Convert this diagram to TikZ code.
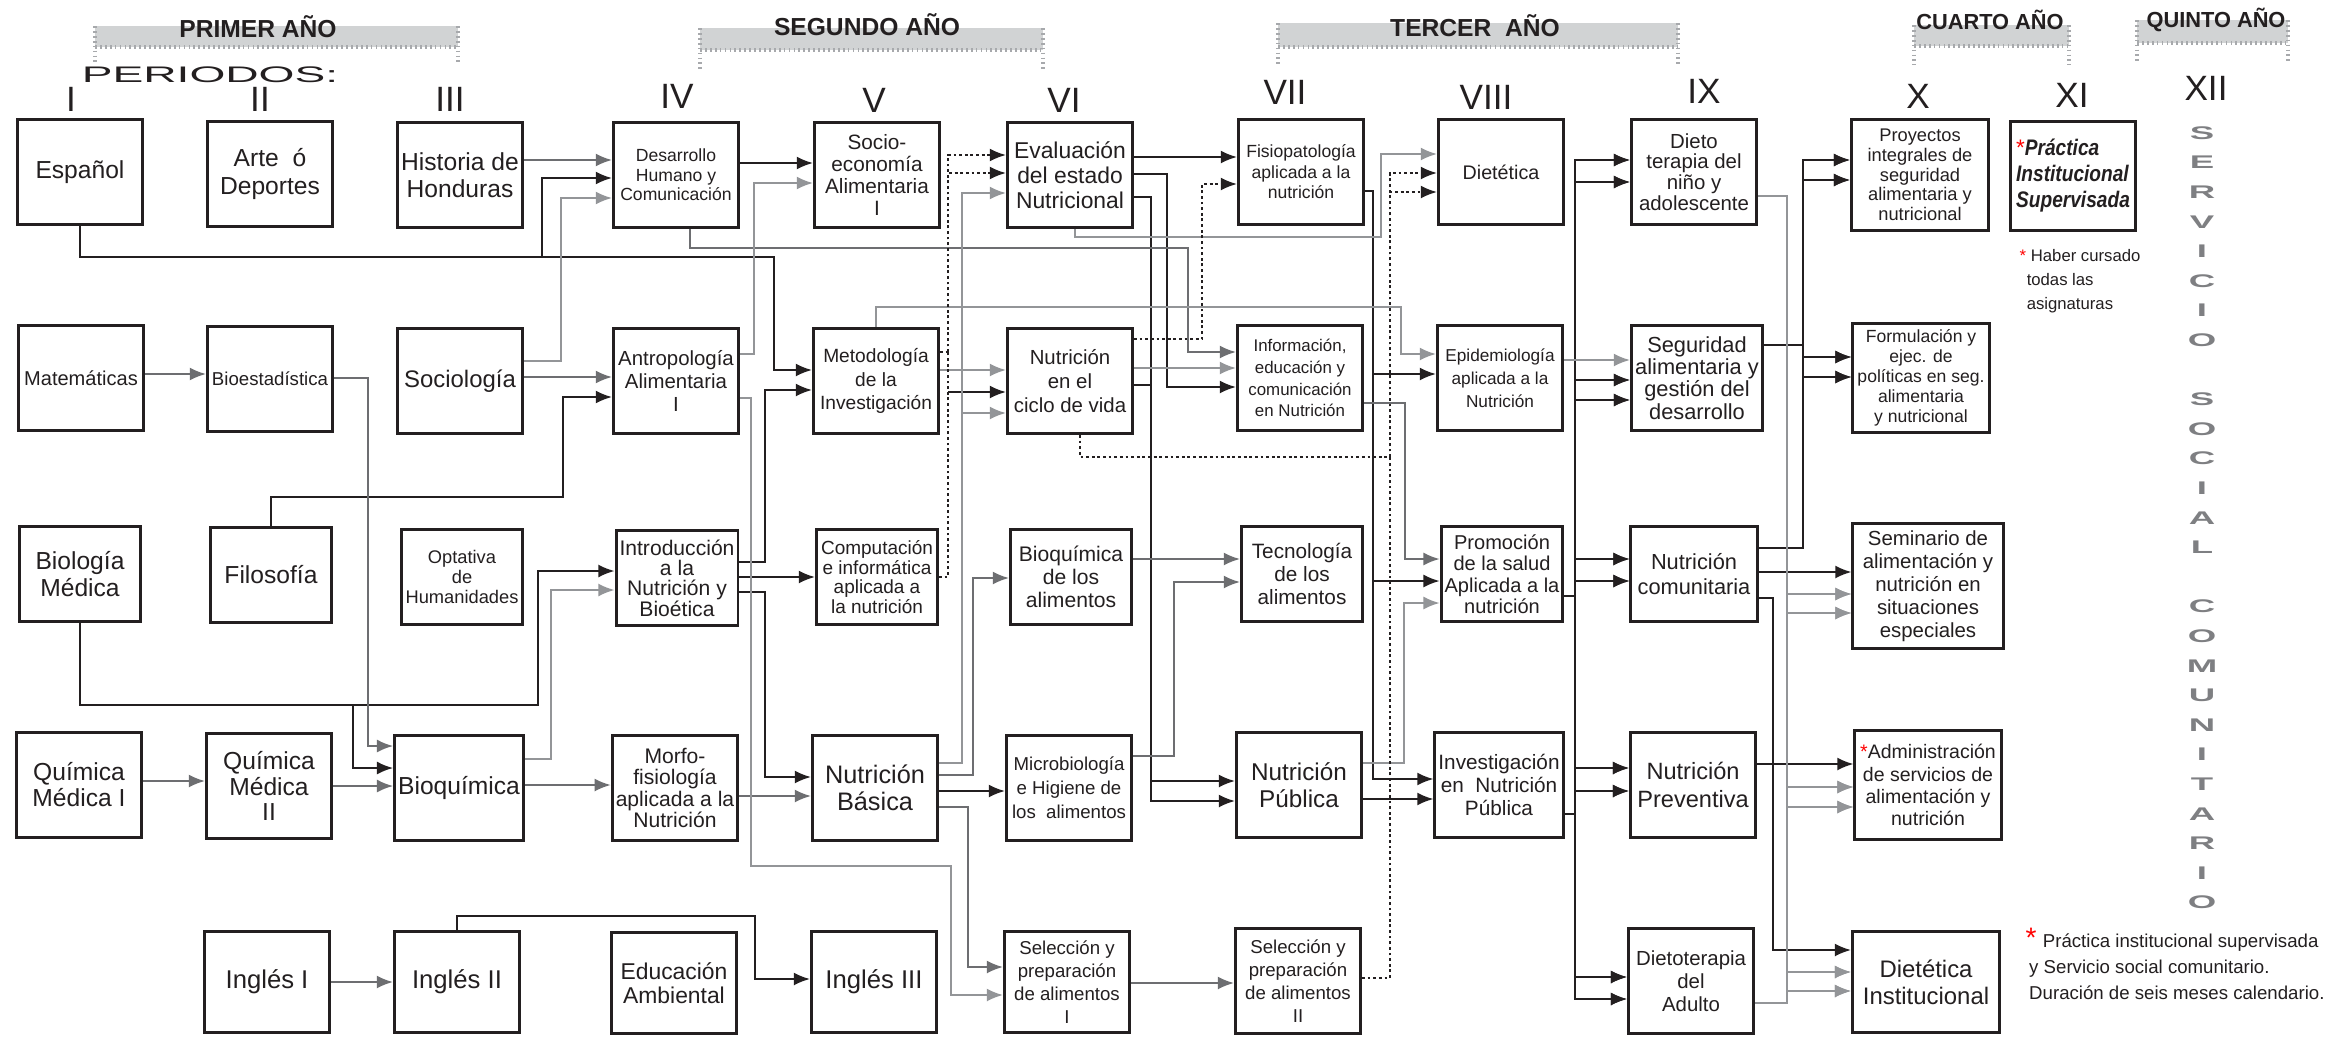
\documentclass[tikz,border=0pt]{standalone}
\usepackage{fontspec}
\setmainfont{Liberation Sans}
\usetikzlibrary{arrows.meta,positioning}
\tikzset{>={Latex[length=4.6pt,width=3.7pt]}}
\definecolor{lin}{HTML}{231F20}
\definecolor{dgray}{HTML}{6D6E71}
\definecolor{lgray}{HTML}{939598}
\definecolor{barfill}{HTML}{D1D3D4}
\definecolor{dotgray}{HTML}{A7A9AC}
\definecolor{letgray}{HTML}{7E7F82}

\begin{document}
\begin{tikzpicture}[x=0.01cm,y=-0.01cm,
  box/.style={draw=lin,line width=0.85pt,align=center,inner sep=1pt,fill=white,text=lin},
  std/.style={minimum width=1.25cm,minimum height=1.05cm},
  low/.style={minimum width=1.21cm,minimum height=0.94cm},
  fs/.style 2 args={font=\fontsize{#1}{#2}\selectfont},
  blk/.style={->,draw=lin,line width=0.55pt},
  dg/.style={->,draw=dgray,line width=0.55pt},
  lg/.style={->,draw=lgray,line width=0.55pt},
  dt0/.style={draw=lin,line width=0.55pt,dash pattern=on 0.8pt off 0.8pt},
  dt/.style={->,dt0},
  per/.style={font=\fontsize{10}{10}\selectfont,text=lin,inner sep=0pt},
  yr/.style={text=lin,inner sep=0pt},
  hdot/.style={draw=dotgray,line width=1.3pt,dash pattern=on 0.5pt off 0.9pt},
  vlet/.style={text=letgray,inner sep=0pt,font=\fontsize{5.2}{5.4}\selectfont\bfseries}]

\fill[white] (0,0) rectangle (2339,1036);
\useasboundingbox (0,0) rectangle (2339,1036);

% years
\foreach \xa/\xb/\ya/\yb/\yc/\tx/\ty/\sz/\txt in {
  95/458/26/47/63/258/27/7/{PRIMER AÑO},
  700/1043/28/50/70/867/25/7/{SEGUNDO AÑO},
  1278/1678/23/47/65/1475/26/7/{TERCER\ \ AÑO},
  1914/2069/25/46/65/1990/20/6.2/{CUARTO AÑO},
  2137/2288/20/43/62/2216/20/6.2/{QUINTO AÑO}}
{
  \fill[barfill] (\xa,\ya) rectangle (\xb,\yb);
  \draw[hdot] (\xa,\ya) -- (\xa,\yc) (\xb,\ya) -- (\xb,\yc) (\xa,\yb) -- (\xb,\yb);
  \node[yr,font=\fontsize{\sz}{\sz}\selectfont\bfseries] (h\xa) at (\tx,\ty) {\txt};
}
\node[yr] (periodos) at (210,75) {\scalebox{2.05}[1]{\fontsize{6.4}{7}\selectfont PERIODOS:}};
\foreach \rom/\x/\y in {I/71/99,II/260/99,III/450/99,IV/677/96,V/874/100,VI/1064/100,
  VII/1285/92,VIII/1486/97,IX/1704/91,X/1918/96,XI/2072/95,XII/2206/88}
  \node[per] (per\rom) at (\x,\y) {\rom};

% row 1
\node[box,std,fs={7}{8}] (espanol) at (80,172) {Español};
\node[box,std,fs={7}{7.8}] (arte) at (270,174) {Arte\ \ ó\\Deportes};
\node[box,std,fs={7}{7.8}] (historia) at (460,175) {Historia de\\Honduras};
\node[box,std,fs={5}{5.6}] (desarrollo) at (676,175) {Desarrollo\\Humano y\\Comunicación};
\node[box,std,fs={5.9}{6.3}] (socio) at (877,175) {Socio-\\economía\\Alimentaria\\I};
\node[box,std,fs={6.5}{7.1}] (evaluacion) at (1070,175) {Evaluación\\del estado\\Nutricional};
\node[box,std,fs={5}{5.8}] (fisio) at (1301,172) {Fisiopatología\\aplicada a la\\nutrición};
\node[box,std,fs={5.6}{6}] (dietetica) at (1501,172) {Dietética};
\node[box,std,fs={5.8}{5.9}] (dietonino) at (1694,172) {Dieto\\terapia del\\niño y\\adolescente};
\node[box,minimum width=1.37cm,minimum height=1.1cm,fs={5.2}{5.6}] (proyectos) at (1920,175)
  {Proyectos\\integrales de\\seguridad\\alimentaria y\\nutricional};
\node[box,minimum width=1.25cm,minimum height=1.08cm,fs={6.4}{7.4},align=left] (practica) at (2073,176)
  {\textcolor{red}{*}\scalebox{0.85}[1]{\textbf{\textit{Práctica}}}\\\scalebox{0.85}[1]{\textbf{\textit{Institucional}}}\\\scalebox{0.85}[1]{\textbf{\textit{Supervisada}}}};

% row 2
\node[box,std,fs={5.7}{6}] (mate) at (81,378) {Matemáticas};
\node[box,std,fs={5.3}{6}] (bioest) at (270,379) {Bioestadística};
\node[box,std,fs={6.8}{7.5}] (sociol) at (460,381) {Sociología};
\node[box,std,fs={5.8}{6.6}] (antropo) at (676,381) {Antropología\\Alimentaria\\I};
\node[box,std,fs={5.45}{6.6}] (metodo) at (876,381) {Metodología\\de la\\Investigación};
\node[box,std,fs={5.8}{6.9}] (ciclo) at (1070,381) {Nutrición\\en el\\ciclo de vida};
\node[box,std,fs={4.8}{6.2}] (info) at (1300,378) {Información,\\educación y\\comunicación\\en Nutrición};
\node[box,std,fs={4.9}{6.5}] (epidem) at (1500,378) {Epidemiología\\aplicada a la\\Nutrición};
\node[box,minimum width=1.31cm,minimum height=1.04cm,fs={6.2}{6.3}] (seguridad) at (1697,378)
  {Seguridad\\alimentaria y\\gestión del\\desarrollo};
\node[box,minimum width=1.36cm,minimum height=1.08cm,fs={5}{5.7}] (formul) at (1921,378)
  {Formulación y\\ejec. de\\políticas en seg.\\alimentaria\\y nutricional};

% row 3
\node[box,low,fs={7}{7.8}] (biologia) at (80,574) {Biología\\Médica};
\node[box,low,fs={7}{7.8}] (filosofia) at (271,575) {Filosofía};
\node[box,low,fs={5.2}{5.7}] (optativa) at (462,577) {Optativa\\de\\Humanidades};
\node[box,low,fs={6}{5.8}] (intro) at (677,578) {Introducción\\a la\\Nutrición y\\Bioética};
\node[box,low,fs={5.4}{5.6}] (compu) at (877,577) {Computación\\e informática\\aplicada a\\la nutrición};
\node[box,low,fs={6}{6.5}] (bioqalim) at (1071,577) {Bioquímica\\de los\\alimentos};
\node[box,low,fs={5.9}{6.5}] (tecno) at (1302,574) {Tecnología\\de los\\alimentos};
\node[box,low,fs={5.7}{6.1}] (promo) at (1502,574) {Promoción\\de la salud\\Aplicada a la\\nutrición};
\node[box,low,minimum width=1.26cm,fs={6.2}{7}] (nutcom) at (1694,574) {Nutrición\\comunitaria};
\node[box,minimum width=1.5cm,minimum height=1.25cm,fs={5.8}{6.5}] (seminario) at (1928,586)
  {Seminario de\\alimentación y\\nutrición en\\situaciones\\especiales};

% row 4
\node[box,std,fs={7}{7.4}] (quim1) at (79,785) {Química\\Médica I};
\node[box,std,fs={7}{7.3}] (quim2) at (269,786) {Química\\Médica\\II};
\node[box,std,fs={7}{8}] (bioq) at (459,788) {Bioquímica};
\node[box,std,fs={6}{6}] (morfo) at (675,788) {Morfo-\\fisiología\\aplicada a la\\Nutrición};
\node[box,std,fs={7.2}{7.6}] (nutbas) at (875,788) {Nutrición\\Básica};
\node[box,std,fs={5.3}{6.8}] (micro) at (1069,788) {Microbiología\\e Higiene de\\los\ \ alimentos};
\node[box,std,fs={6.9}{7.8}] (nutpub) at (1299,785) {Nutrición\\Pública};
\node[box,std,fs={5.9}{6.5}] (invest) at (1499,785) {Investigación\\en\ \ Nutrición\\Pública};
\node[box,std,fs={6.7}{7.8}] (nutprev) at (1693,785) {Nutrición\\Preventiva};
\node[box,minimum width=1.46cm,minimum height=1.09cm,fs={5.55}{6.3}] (admin) at (1928,785)
  {\textcolor{red}{*}Administración\\de servicios de\\alimentación y\\nutrición};

% row 5
\node[box,std,minimum height=1.01cm,fs={7.3}{8}] (ingles1) at (267,982) {Inglés I};
\node[box,std,minimum height=1.01cm,fs={7.3}{8}] (ingles2) at (457,982) {Inglés II};
\node[box,std,minimum height=1cm,fs={6.5}{7}] (educ) at (674,983) {Educación\\Ambiental};
\node[box,std,minimum height=1.01cm,fs={7.3}{8}] (ingles3) at (874,982) {Inglés III};
\node[box,std,minimum height=1.01cm,fs={5.3}{6.5}] (selec1) at (1067,982) {Selección y\\preparación\\de alimentos\\I};
\node[box,std,fs={5.3}{6.5}] (selec2) at (1298,981) {Selección y\\preparación\\de alimentos\\II};
\node[box,std,fs={5.8}{6.6}] (dietoad) at (1691,981) {Dietoterapia\\del\\Adulto};
\node[box,minimum width=1.47cm,minimum height=1.01cm,fs={6.8}{7.6}] (dietinst) at (1926,982) {Dietética\\Institucional};

% notes
\node[yr,align=left,anchor=west,fs={4.75}{6.8}] (haber) at (2019,281)
  {\textcolor{red}{*} Haber cursado\\\hspace*{2pt}todas las\\\hspace*{2pt}asignaturas};
\node[yr,align=left,anchor=west,fs={5.3}{7.3}] (pie) at (2025,964)
  {\textcolor{red}{\fontsize{8}{7}\selectfont*}\,\,Práctica institucional supervisada\\\hspace*{1pt}y Servicio social comunitario.\\\hspace*{1pt}Duración de seis meses calendario.};
\foreach \ch [count=\k from 0] in {S,E,R,V,I,C,I,O}
  \node[vlet] (sv\k) at (2202,133+29.6*\k) {\scalebox{2}[1]{\ch}};
\foreach \ch [count=\k from 9] in {S,O,C,I,A,L}
  \node[vlet] (sv\k) at (2202,133+29.6*\k) {\scalebox{2}[1]{\ch}};
\foreach \ch [count=\k from 16] in {C,O,M,U,N,I,T,A,R,I,O}
  \node[vlet] (sv\k) at (2202,133+29.6*\k) {\scalebox{2}[1]{\ch}};

% black connectors
\draw[blk] (espanol.south) |- (542,257) |- (desarrollo.west |- 0,178);
\draw[blk] (espanol.south) |- (774,257) |- (metodo.west |- 0,370);
\draw[blk] (filosofia.north) |- (563,497) |- (antropo.west |- 0,397);
\draw[blk] (biologia.south) |- (538,705) |- (intro.west |- 0,571);
\draw[blk] (biologia.south) |- (353,705) |- (bioq.west |- 0,768);
\draw[blk] (desarrollo.east |- 0,163) -- (socio.west |- 0,163);
\draw[blk] (intro.east |- 0,562) -| (765,390) -- (metodo.west |- 0,390);
\draw[blk] (intro.east |- 0,577) -- (compu.west |- 0,577);
\draw[blk] (intro.east |- 0,592) -| (765,777) -- (nutbas.west |- 0,777);
\draw[blk] (ingles2.north) |- (755,916) |- (ingles3.west |- 0,979);
\draw[blk] (evaluacion.east |- 0,157) -- (fisio.west |- 0,157);
\draw[blk] (evaluacion.east |- 0,174) -| (1167,387) -- (info.west |- 0,387);
\draw[blk] (evaluacion.east |- 0,197) -| (1151,801) -- (nutpub.west |- 0,801);
\draw[blk] (ciclo.east |- 0,385) -| (1151,781) -- (nutpub.west |- 0,781);
\coordinate (cc) at (948,392);
\draw[blk] (cc) -- (ciclo.west |- cc);
\draw[blk] (nutbas.east |- 0,791) -- (micro.west |- 0,791);
\foreach \tg/\yy in {epidem/374,promo/581,invest/779}
  \draw[blk] (fisio.east |- 0,191) -| (1373,\yy) -- (\tg.west |- 0,\yy);
\draw[blk] (nutpub.east |- 0,799) -- (invest.west |- 0,799);
\foreach \src/\ys in {promo/596,invest/814}
  \foreach \tg/\yy in {dietonino/160,dietonino/182,seguridad/380,seguridad/400,nutcom/559,
    nutcom/581,nutprev/768,nutprev/791,dietoad/977,dietoad/999}
    \draw[blk] (\src.east |- 0,\ys) -| (1575,\yy) -- (\tg.west |- 0,\yy);
\foreach \src/\ys in {seguridad/345,nutcom/548}
  \foreach \tg/\yy in {proyectos/160,proyectos/180,formul/357,formul/377}
    \draw[blk] (\src.east |- 0,\ys) -| (1803,\yy) -- (\tg.west |- 0,\yy);
\draw[blk] (nutcom.east |- 0,572) -- (seminario.west |- 0,572);
\draw[blk] (nutcom.east |- 0,598) -| (1773,950) -- (dietinst.west |- 0,950);
\draw[blk] (nutprev.east |- 0,764) -- (admin.west |- 0,764);

% dark gray connectors
\draw[dg] (historia.east |- 0,160) -- (desarrollo.west |- 0,160);
\draw[dg] (sociol.east |- 0,377) -- (antropo.west |- 0,377);
\draw[dg] (mate.east |- 0,374) -- (bioest.west |- 0,374);
\draw[dg] (bioest.east |- 0,378) -| (368,746) -- (bioq.west |- 0,746);
\draw[dg] (quim1.east |- 0,781) -- (quim2.west |- 0,781);
\draw[dg] (quim2.east |- 0,786) -- (bioq.west |- 0,786);
\draw[dg] (bioq.east |- 0,785) -- (morfo.west |- 0,785);
\draw[dg] (morfo.east |- 0,796) -- (nutbas.west |- 0,796);
\draw[dg] (ingles1.east |- 0,982) -- (ingles2.west |- 0,982);
\draw[dg] (desarrollo.south -| 690,0) |- (1188,248) |- (info.west |- 0,352);
\draw[dg] (nutbas.east |- 0,775) -| (973,578) -- (bioqalim.west |- 0,578);
\draw[dg] (nutbas.east |- 0,807) -| (968,967) -- (selec1.west |- 0,967);
\draw[dg] (bioqalim.east |- 0,559) -- (tecno.west |- 0,559);
\draw[dg] (micro.east |- 0,756) -| (1174,582) -- (tecno.west |- 0,582);
\draw[dg] (selec1.east |- 0,983) -- (selec2.west |- 0,983);
\draw[dg] (info.east |- 0,403) -| (1405,559) -- (promo.west |- 0,559);

% light gray connectors
\draw[lg] (sociol.east |- 0,361) -| (561,198) -- (desarrollo.west |- 0,198);
\draw[lg] (antropo.east |- 0,354) -| (754,183) -- (socio.west |- 0,183);
\draw[lg] (antropo.east |- 0,398) -| (751,866) -| (951,995) -- (selec1.west |- 0,995);
\draw[lg] (bioq.east |- 0,759) -| (551,590) -- (intro.west |- 0,590);
\draw[lg] (nutbas.east |- 0,763) -| (962,193) -- (evaluacion.west |- 0,193);
\draw[lg] (nutbas.east |- 0,763) -| (962,413) -- (ciclo.west |- 0,413);
\draw[lg] (metodo.east |- 0,370) -- (ciclo.west |- 0,370);
\draw[lg] (metodo.north) |- (1401,307) |- (epidem.west |- 0,354);
\draw[lg] (evaluacion.south -| 1075,0) |- (1381,237) |- (dietetica.west |- 0,154);
\draw[lg] (ciclo.east |- 0,368) -- (info.west |- 0,368);
\draw[lg] (nutpub.east |- 0,763) -| (1404,603) -- (promo.west |- 0,603);
\draw[lg] (epidem.east |- 0,360) -- (seguridad.west |- 0,360);
\foreach \src/\ys in {dietonino/196,dietoad/1003}
  \foreach \tg/\yy in {seminario/594,seminario/613,admin/787,admin/807,dietinst/972,dietinst/991}
    \draw[lg] (\src.east |- 0,\ys) -| (1787,\yy) -- (\tg.west |- 0,\yy);

% dotted connectors
\coordinate (mj) at (948,352);
\draw[dt0] (metodo.east |- mj) -- (mj);
\draw[dt0] (compu.east |- 0,577) -| (mj);
\draw[dt] (mj) |- (evaluacion.west |- 0,173);
\draw[dt] (mj) |- (evaluacion.west |- 0,155);
\draw[dt] (ciclo.east |- 0,339) -| (1202,184) -- (fisio.west |- 0,184);
\coordinate (dj) at (1390,457);
\draw[dt0] (ciclo.south -| 1080,0) |- (dj);
\draw[dt0] (selec2.east |- 0,978) -| (dj);
\draw[dt] (dj) |- (dietetica.west |- 0,173);
\draw[dt] (dj) |- (dietetica.west |- 0,192);
\end{tikzpicture}
\end{document}
